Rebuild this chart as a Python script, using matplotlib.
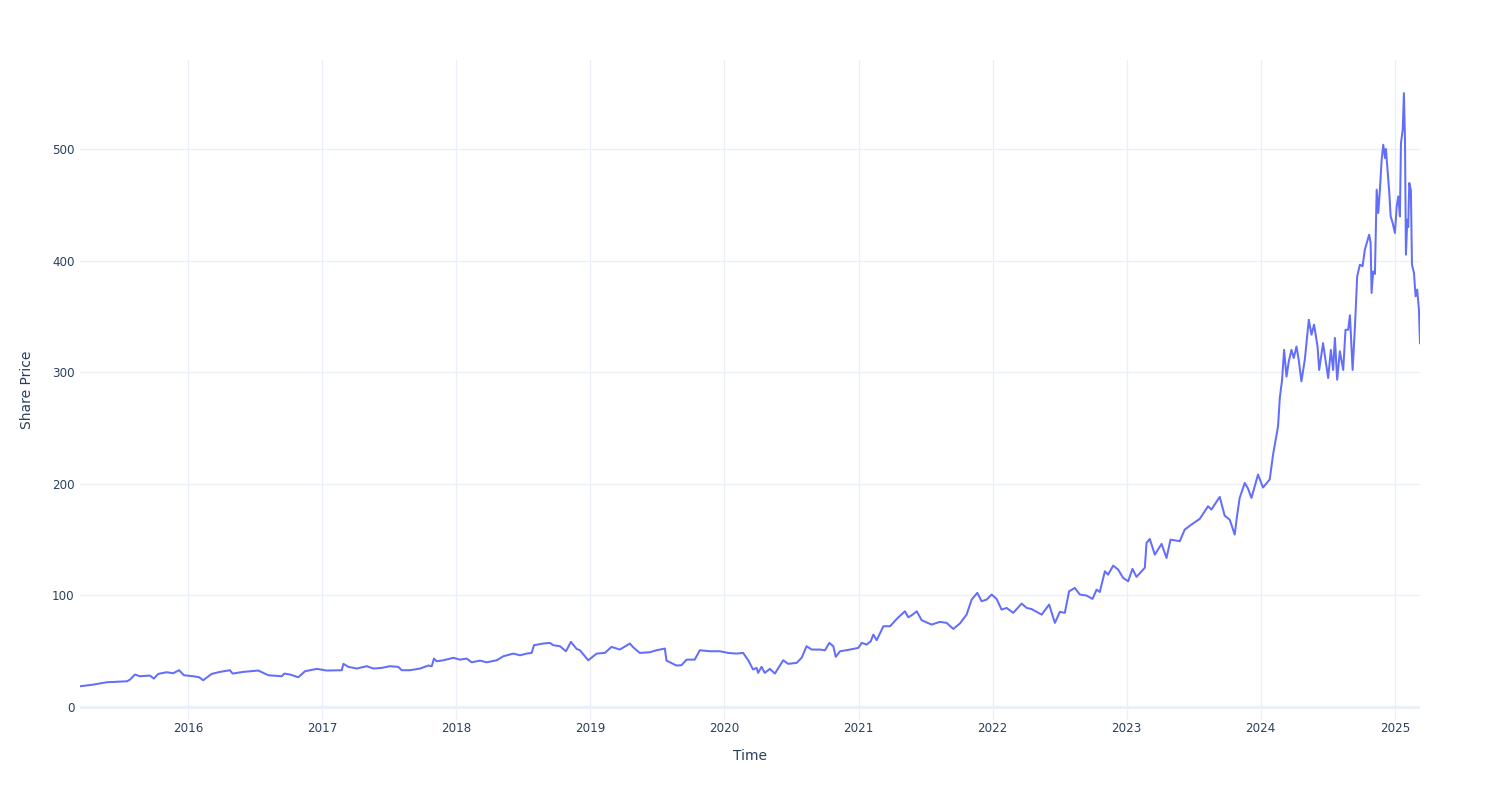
import matplotlib
matplotlib.use("Agg")
import matplotlib.pyplot as plt
import matplotlib.dates as mdates
import numpy as np
import pandas as pd

# Time axis as decimal years
decimal_year = [
    2015.195, 2015.294, 2015.394, 2015.547, 2015.568, 2015.605, 2015.642, 2015.717, 2015.746, 2015.779,
    2015.841, 2015.890, 2015.935, 2015.970, 2016.040, 2016.084, 2016.114, 2016.177, 2016.239, 2016.313,
    2016.333, 2016.412, 2016.524, 2016.599, 2016.699, 2016.718, 2016.761, 2016.822, 2016.872, 2016.910,
    2016.960, 2017.034, 2017.146, 2017.158, 2017.195, 2017.258, 2017.332, 2017.382, 2017.444, 2017.506,
    2017.568, 2017.593, 2017.655, 2017.730, 2017.792, 2017.817, 2017.834, 2017.854, 2017.904, 2017.978,
    2018.028, 2018.078, 2018.115, 2018.177, 2018.227, 2018.302, 2018.351, 2018.426, 2018.476, 2018.526,
    2018.563, 2018.580, 2018.649, 2018.699, 2018.724, 2018.774, 2018.819, 2018.856, 2018.898, 2018.923,
    2018.985, 2019.048, 2019.109, 2019.159, 2019.221, 2019.296, 2019.320, 2019.370, 2019.445, 2019.495,
    2019.557, 2019.569, 2019.644, 2019.681, 2019.719, 2019.780, 2019.818, 2019.892, 2019.967, 2020.029,
    2020.091, 2020.141, 2020.178, 2020.215, 2020.241, 2020.252, 2020.278, 2020.302, 2020.340, 2020.377,
    2020.414, 2020.439, 2020.476, 2020.539, 2020.576, 2020.613, 2020.651, 2020.713, 2020.750, 2020.782,
    2020.812, 2020.830, 2020.862, 2020.936, 2020.998, 2021.024, 2021.061, 2021.091, 2021.110, 2021.135,
    2021.185, 2021.235, 2021.285, 2021.346, 2021.371, 2021.396, 2021.434, 2021.471, 2021.545, 2021.607,
    2021.657, 2021.707, 2021.757, 2021.806, 2021.844, 2021.886, 2021.918, 2021.956, 2021.993, 2022.030,
    2022.067, 2022.105, 2022.154, 2022.217, 2022.254, 2022.291, 2022.366, 2022.422, 2022.465, 2022.502,
    2022.539, 2022.571, 2022.614, 2022.651, 2022.701, 2022.746, 2022.776, 2022.800, 2022.838, 2022.862,
    2022.900, 2022.937, 2022.974, 2023.012, 2023.044, 2023.074, 2023.119, 2023.136, 2023.149, 2023.173,
    2023.211, 2023.261, 2023.298, 2023.328, 2023.397, 2023.434, 2023.484, 2023.546, 2023.608, 2023.633,
    2023.695, 2023.732, 2023.770, 2023.807, 2023.824, 2023.844, 2023.882, 2023.906, 2023.932, 2023.981,
    2024.018, 2024.068, 2024.093, 2024.130,
    2024.143, 2024.160, 2024.175, 2024.193, 2024.210, 2024.230, 2024.247, 2024.267, 2024.284, 2024.304,
    2024.329, 2024.359, 2024.379, 2024.398, 2024.424, 2024.436, 2024.465, 2024.483, 2024.503, 2024.523,
    2024.540, 2024.553, 2024.570, 2024.590, 2024.615, 2024.632, 2024.652, 2024.665, 2024.685, 2024.702,
    2024.719, 2024.739, 2024.759, 2024.776, 2024.794, 2024.808, 2024.819, 2024.826, 2024.838, 2024.851,
    2024.864, 2024.876, 2024.888, 2024.901, 2024.913, 2024.926, 2024.933, 2024.950, 2024.958, 2024.968,
    2024.983, 2025.000, 2025.013, 2025.025, 2025.037, 2025.045, 2025.058, 2025.067, 2025.075, 2025.082,
    2025.092, 2025.099, 2025.107, 2025.119, 2025.127, 2025.142, 2025.154, 2025.166, 2025.179, 2025.187,
]

# Share price values
share_price = [
    18.6, 20.1, 22.2, 23.1, 24.6, 29.1, 27.6, 28.2, 25.5, 29.7,
    31.2, 30.3, 33.0, 28.5, 27.6, 26.7, 24.0, 29.7, 31.5, 33.0,
    30.0, 31.5, 32.7, 28.5, 27.6, 30.0, 29.1, 26.7, 32.1, 33.0,
    34.2, 32.7, 33.0, 38.7, 36.0, 34.5, 36.6, 34.5, 35.1, 36.6,
    36.0, 33.0, 33.0, 34.5, 37.2, 36.6, 43.4, 41.0, 41.9, 44.1,
    42.5, 43.4, 40.1, 41.6, 40.1, 41.9, 45.5, 47.9, 46.4, 47.9,
    48.5, 55.4, 56.9, 57.5, 55.4, 54.5, 50.0, 58.4, 52.1, 50.9,
    41.9, 47.9, 48.5, 53.9, 51.5, 56.9, 53.6, 48.5, 49.1, 50.9,
    52.4, 41.6, 37.2, 37.5, 42.5, 42.5, 50.9, 50.0, 50.0, 48.5,
    47.9, 48.5, 42.0, 33.6, 35.1, 30.6, 36.0, 30.6, 34.2, 30.0,
    37.2, 41.9, 38.7, 39.6, 44.1, 54.5, 51.5, 51.5, 50.9, 57.5,
    54.5, 45.0, 50.0, 51.5, 53.0, 57.5, 56.0, 59.0, 64.9, 59.9,
    72.4, 72.4, 79.0, 85.8, 80.4, 82.2, 85.8, 77.7, 73.9, 76.3,
    75.4, 70.0, 75.0, 82.8, 96.3, 102.3, 94.8, 96.3, 100.8, 96.9,
    87.3, 88.8, 84.4, 92.7, 88.8, 87.8, 82.8, 91.8, 75.4, 85.3,
    84.4, 103.7, 106.7, 100.8, 99.9, 96.9, 105.2, 103.1, 121.6, 118.6,
    126.7, 123.2, 115.7, 112.7, 123.8, 116.6, 122.6, 124.7, 147.1, 150.6,
    136.5, 146.2, 133.6, 150.0, 148.6, 159.0, 163.5, 168.6, 179.9, 176.9,
    188.3, 171.5, 167.8, 154.5, 171.0, 187.4, 200.8, 195.8, 187.4, 208.3,
    196.7, 203.9, 226.2, 251.5,
    277.0, 293.0, 320.0, 296.0, 309.7, 320.0, 312.7, 323.0, 311.0, 291.8,
    311.0, 347.0, 333.6, 342.6, 323.0, 302.0, 326.0, 311.0, 294.8, 320.0,
    302.0, 330.7, 293.3, 318.7, 302.0, 338.0, 338.0, 351.0, 302.0, 340.0,
    385.9, 396.3, 395.0, 409.8, 417.2, 423.2, 416.0, 371.0, 390.3, 388.0,
    463.5, 442.6, 463.5, 490.4, 503.8, 491.9, 500.0, 472.5, 460.5, 439.6,
    433.7, 424.7, 448.5, 457.5, 439.6, 505.3, 517.2, 550.0, 508.0, 405.3,
    436.6, 430.0, 469.5, 463.0, 396.3, 388.9, 368.0, 374.0, 356.0, 326.0,
]

y_ticks = [0, 100, 200, 300, 400, 500]


def to_datetime(y):
    year = int(np.floor(y))
    start = pd.Timestamp(year=year, month=1, day=1)
    end = pd.Timestamp(year=year + 1, month=1, day=1)
    return start + (end - start) * (y - year)


dates = [to_datetime(y) for y in decimal_year]

TEXT = "#2a3f5f"
GRID = "#EBF0F8"
plt.rcParams["font.family"] = ["DejaVu Sans"]

fig = plt.figure(figsize=(15, 8), dpi=100)
fig.patch.set_facecolor("white")
ax = fig.add_axes([80 / 1500, 80 / 800, 1340 / 1500, 660 / 800])
ax.set_facecolor("white")

ax.plot(dates, share_price, color="#636efa", lw=1.45, zorder=3, solid_joinstyle="round")

ax.set_xlim(dates[0], dates[-1])
ax.set_ylim(-11.6, 579.7)
ax.set_yticks(y_ticks)
ax.xaxis.set_major_locator(mdates.YearLocator())
ax.xaxis.set_major_formatter(mdates.DateFormatter("%Y"))

ax.grid(True, color=GRID, lw=1, zorder=0)
ax.axhline(0, color=GRID, lw=2, zorder=1)
for s in ax.spines.values():
    s.set_visible(False)
ax.tick_params(axis="both", length=0, colors=TEXT, labelsize=8.6)
ax.tick_params(axis="x", pad=1.8)
ax.tick_params(axis="y", pad=4)

fig.text(750 / 1500, 1 - 756 / 800, "Time", ha="center", va="center", color=TEXT, fontsize=10)
fig.text(27 / 1500, 1 - 390 / 800, "Share Price", ha="center", va="center",
         rotation=90, color=TEXT, fontsize=10)

fig.savefig("out.png", dpi=100)
